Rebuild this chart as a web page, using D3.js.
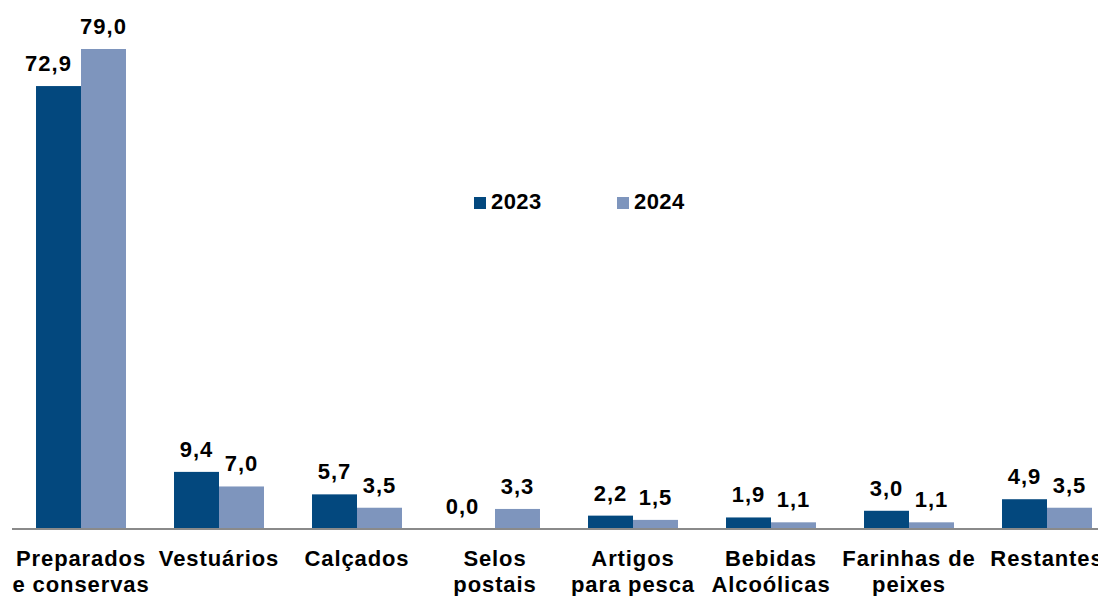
<!DOCTYPE html>
<html>
<head>
<meta charset="utf-8">
<script src="https://cdn.jsdelivr.net/npm/d3@7"></script>
<style>
  body { margin: 0; background: #fff; }
  svg text { font-family: "Liberation Sans", Arial, sans-serif; font-weight: bold; fill: #000; }
</style>
</head>
<body>
<div class="chart"></div>
<script>
// categories (each entry split into label lines)
const categories = [
  ["Preparados", "e conservas"],
  ["Vestuários"],
  ["Calçados"],
  ["Selos", "postais"],
  ["Artigos", "para pesca"],
  ["Bebidas", "Alcoólicas"],
  ["Farinhas de", "peixes"],
  ["Restantes"]
];
const seriesNames = ["2023", "2024"];
const values2023 = [72.9, 9.4, 5.7, 0.0, 2.2, 1.9, 3.0, 4.9];
const values2024 = [79.0, 7.0, 3.5, 3.3, 1.5, 1.1, 1.1, 3.5];
const colors = ["#03487e", "#7e95bd"];

const WIDTH = 1098, HEIGHT = 596;
const baseY = 529;

const svg = d3.select(".chart").append("svg")
  .attr("width", WIDTH)
  .attr("height", HEIGHT);

const keys = categories.map((c, i) => i);
const x = d3.scaleBand()
  .domain(keys)
  .range([12, 12 + 138 * categories.length])
  .paddingInner(0.348)
  .paddingOuter(0.174);

const x1 = d3.scaleBand()
  .domain(seriesNames)
  .range([0, x.bandwidth()]);

const y = d3.scaleLinear()
  .domain([0, 79])
  .range([baseY, 49]);

const fmt = v => v.toFixed(1).replace(".", ",");

const datas = [];
keys.forEach(i => {
  datas.push({ i: i, s: "2023", v: values2023[i], other: values2024[i], col: colors[0] });
  datas.push({ i: i, s: "2024", v: values2024[i], other: values2023[i], col: colors[1] });
});

// bars
svg.selectAll(".bar")
  .data(datas)
  .enter()
  .append("rect")
  .attr("class", "bar")
  .attr("x", d => x(d.i) + x1(d.s))
  .attr("y", d => y(d.v))
  .attr("width", x1.bandwidth())
  .attr("height", d => baseY - y(d.v))
  .attr("fill", d => d.col);

// axis line
svg.append("line")
  .attr("x1", 12).attr("x2", WIDTH)
  .attr("y1", baseY).attr("y2", baseY)
  .attr("stroke", "#8a8a8a")
  .attr("stroke-width", 2);

// value labels; 2023 label moves left when the 2024 bar would hit it
svg.selectAll(".vlabel")
  .data(datas)
  .enter()
  .append("text")
  .attr("class", "vlabel")
  .attr("x", d => {
    let cx = x(d.i) + x1(d.s) + x1.bandwidth() / 2;
    if (d.s === "2023" && y(d.other) < y(d.v) - 15) cx -= 10;
    return cx;
  })
  .attr("y", d => y(d.v) - 15)
  .attr("text-anchor", "middle")
  .style("font-size", "22px")
  .style("letter-spacing", "1px")
  .text(d => fmt(d.v));

// category labels
const cat = svg.selectAll(".cat")
  .data(keys)
  .enter()
  .append("text")
  .attr("class", "cat")
  .attr("text-anchor", "middle")
  .style("font-size", "22px")
  .style("letter-spacing", "0.9px");

cat.selectAll("tspan")
  .data(i => categories[i].map(t => ({ t: t, i: i })))
  .enter()
  .append("tspan")
  .attr("x", d => x(d.i) + x.bandwidth() / 2)
  .attr("y", (d, j) => 566 + j * 26)
  .text(d => d.t);

// legend
const legend = svg.selectAll(".legend")
  .data(seriesNames)
  .enter()
  .append("g")
  .attr("class", "legend")
  .attr("transform", (d, i) => "translate(" + (474 + i * 143) + ",197)");

legend.append("rect")
  .attr("width", 12).attr("height", 12)
  .attr("fill", (d, i) => colors[i]);

legend.append("text")
  .attr("x", 17).attr("y", 12)
  .style("font-size", "22px")
  .style("letter-spacing", "0.4px")
  .text(d => d);
</script>
</body>
</html>
